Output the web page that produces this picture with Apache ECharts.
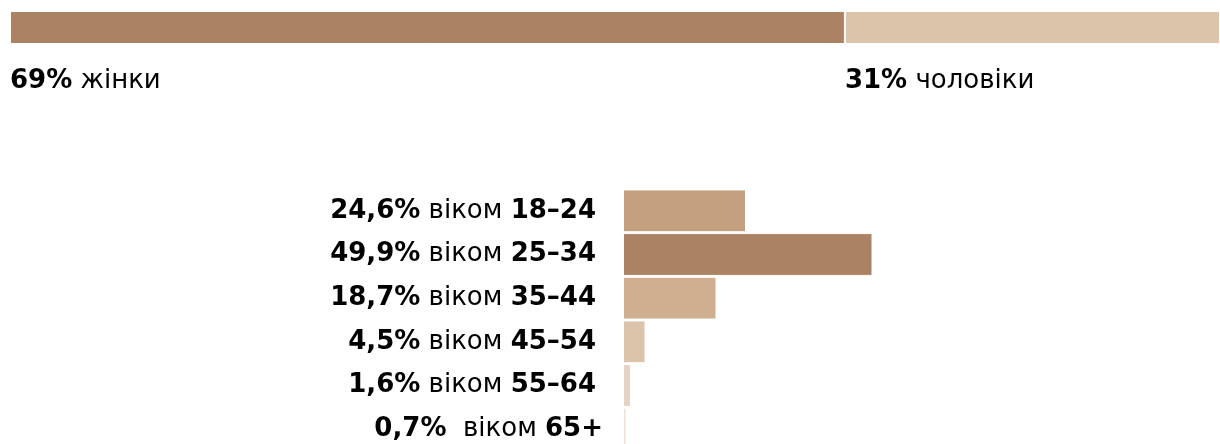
<!DOCTYPE html>
<html>
<head>
<meta charset="utf-8">
<script src="https://cdn.jsdelivr.net/npm/echarts@6/dist/echarts.min.js"></script>
<style>
html,body{margin:0;padding:0;background:#fff;}
#c{width:1220px;height:444px;}
</style>
</head>
<body>
<div id="c"></div>
<script>
// Gender split
const genderLabels = ['жінки', 'чоловіки'];
const genderValues = [69, 31];
const genderColors = ['#AB8264', '#DCC4AA'];

// Age groups
const ageCategories = ['18–24', '25–34', '35–44', '45–54', '55–64', '65+'];
const ageValues = [24.6, 49.9, 18.7, 4.5, 1.6, 0.7];
const ageValueLabels = ['24,6%', '49,9%', '18,7%', '4,5%', '1,6%', '0,7%'];
const ageColors = ['#C4A081', '#AB8264', '#CFAF90', '#DCC4AA', '#E5D4C5', '#EEE0D5'];

const FONT = 'DejaVu Sans';
const FS = 26;

const chart = echarts.init(document.getElementById('c'), null, {renderer: 'canvas'});

const richStyles = {
  b: {fontFamily: FONT, fontSize: FS, fontWeight: 'bold', color: '#000'},
  n: {fontFamily: FONT, fontSize: FS, color: '#000'}
};

const genderSeries = genderValues.map((v, i) => ({
  type: 'bar',
  name: genderLabels[i],
  stack: 'g',
  xAxisIndex: 0,
  yAxisIndex: 0,
  barWidth: 33,
  data: [v],
  itemStyle: {color: genderColors[i], borderColor: '#fff', borderWidth: 1},
  label: {
    show: true,
    position: [0, 70],
    verticalAlign: 'middle',
    align: 'left',
    formatter: () => '{b|' + v + '%}{n| ' + genderLabels[i] + '}',
    rich: richStyles
  },
  silent: true
}));

const ageData = ageValues.map((v, i) => ({
  value: v,
  itemStyle: {color: ageColors[i]},
  label: i === ageValues.length - 1 ? {offset: [7, 0]} : undefined
}));

const option = {
  animation: false,
  backgroundColor: '#fff',
  grid: [
    {left: 10, right: 0, top: 11, height: 33, outerBoundsMode: 'none'},
    {left: 623, width: 500, top: 189, height: 262, outerBoundsMode: 'none'}
  ],
  xAxis: [
    {gridIndex: 0, type: 'value', min: 0, max: 100, show: false},
    {gridIndex: 1, type: 'value', min: 0, max: 100, show: false}
  ],
  yAxis: [
    {gridIndex: 0, type: 'category', data: [''], show: false},
    {gridIndex: 1, type: 'category', data: ageCategories, inverse: true, show: false}
  ],
  series: genderSeries.concat([{
    type: 'bar',
    xAxisIndex: 1,
    yAxisIndex: 1,
    barCategoryGap: '2%',
    data: ageData,
    itemStyle: {borderColor: '#fff', borderWidth: 1},
    label: {
      show: true,
      position: 'left',
      distance: 27,
      formatter: (p) => '{b|' + ageValueLabels[p.dataIndex] + '}' +
        '{n|' + (p.dataIndex === ageValues.length - 1 ? '  ' : ' ') + 'віком }' +
        '{b|' + ageCategories[p.dataIndex] + '}',
      rich: richStyles
    },
    silent: true
  }])
};
chart.setOption(option);
</script>
</body>
</html>
